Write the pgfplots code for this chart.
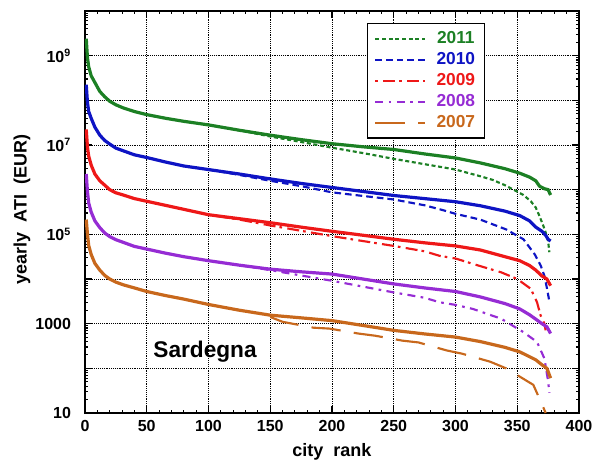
\documentclass[border=0pt]{standalone}
\usepackage{pgfplots}
\pgfplotsset{compat=1.18}
\usepackage{fontspec}
\setmainfont{Liberation Sans}

\definecolor{cA}{RGB}{28,128,36}   % 2011
\definecolor{cB}{RGB}{14,20,196}   % 2010
\definecolor{cC}{RGB}{238,24,24}   % 2009
\definecolor{cD}{RGB}{150,44,212}  % 2008
\definecolor{cE}{RGB}{200,104,28}  % 2007

\begin{document}
\begin{tikzpicture}
\useasboundingbox (-63.75pt,-41.25pt) rectangle (383.25pt,309.75pt);
\begin{axis}[
  scale only axis,
  width=370.5pt, height=301.5pt,
  xmin=0, xmax=400,
  ymode=log, log basis y=10,
  ymin=10, ymax=1e10,
  xtick={0,50,...,400},
  minor x tick num=4,
  ytick={10,100,1000,1e4,1e5,1e6,1e7,1e8,1e9,1e10},
  yticklabels={10,{},1000,{},10\textsuperscript{5},{},10\textsuperscript{7},{},10\textsuperscript{9},{}},
  minor ytick={2e1,3e1,4e1,5e1,6e1,7e1,8e1,9e1,
    2e2,3e2,4e2,5e2,6e2,7e2,8e2,9e2,
    2e3,3e3,4e3,5e3,6e3,7e3,8e3,9e3,
    2e4,3e4,4e4,5e4,6e4,7e4,8e4,9e4,
    2e5,3e5,4e5,5e5,6e5,7e5,8e5,9e5,
    2e6,3e6,4e6,5e6,6e6,7e6,8e6,9e6,
    2e7,3e7,4e7,5e7,6e7,7e7,8e7,9e7,
    2e8,3e8,4e8,5e8,6e8,7e8,8e8,9e8,
    2e9,3e9,4e9,5e9,6e9,7e9,8e9,9e9},
  xtick pos=both, ytick pos=both,
  tick align=inside,
  major tick length=5pt, minor tick length=2.5pt,
  every tick/.style={black, line width=0.8pt},
  axis line style={line width=1.1pt},
  grid=major,
  major grid style={black, densely dotted, line width=0.6pt},
  /pgf/number format/assume math mode=true,
  tick label style={font=\bfseries\fontsize{12}{14}\selectfont},
  yticklabel style={xshift=-7pt},
  xticklabel style={yshift=-2pt},
  xlabel={city\ \ rank},
  ylabel={yearly\ \ ATI\ \ (EUR)},
  every axis x label/.style={at={(axis description cs:0.5,-0.097)}, anchor=center,
    font=\bfseries\fontsize{13.5}{16}\selectfont},
  every axis y label/.style={at={(axis description cs:-0.1275,0.507)}, rotate=90, anchor=center,
    font=\bfseries\fontsize{13.5}{16}\selectfont},
  legend style={at={(rel axis cs:0.571,0.970)}, anchor=north west,
    draw=black, line width=1pt, fill=white,
    font=\bfseries\fontsize{13}{15}\selectfont,
    row sep=1.2pt, inner xsep=5pt, inner ysep=4pt,
    nodes={inner sep=2pt}},
  legend image code/.code={\draw[#1] (0pt,0pt) -- (37pt,0pt);},
]

% ---- ranked curves, second ordering (dashed, in legend) ----
\addplot[cA, line width=1.6pt, dash pattern=on 3pt off 2pt] coordinates {
 (100,2.82e7) (125,2.14e7) (150,1.55e7) (175,1.17e7) (200,8.71e6)
 (225,6.61e6) (250,4.90e6) (275,3.72e6) (290,3.16e6) (300,2.82e6)
 (320,2.00e6) (330,1.66e6) (340,1.26e6) (347,1.00e6) (355,7.59e5)
 (361,5.50e5) (365,3.98e5) (368,2.57e5) (371,1.58e5) (373,1.10e5)
 (375,7.08e4) (376,3.98e4)};
\addlegendentry{\hspace{6pt}\textcolor{cA}{2011}}

\addplot[cB, line width=1.6pt, dash pattern=on 5pt off 3pt] coordinates {
 (100,2.82e6) (125,2.14e6) (150,1.58e6) (175,1.20e6) (200,8.71e5)
 (225,7.24e5) (250,6.03e5) (275,4.47e5) (290,3.47e5) (300,2.88e5)
 (320,2.14e5) (341,1.29e5) (355,7.76e4) (364,3.63e4) (369,2.00e4)
 (372,1.17e4) (374,6.31e3) (376,3.16e3)};
\addlegendentry{\hspace{6pt}\textcolor{cB}{2010}}

\addplot[cC, line width=1.6pt, dash pattern=on 2pt off 4pt on 9pt off 3pt] coordinates {
 (100,2.75e5) (125,2.14e5) (150,1.58e5) (175,1.20e5) (200,9.12e4)
 (225,7.08e4) (250,5.50e4) (275,4.17e4) (287,3.31e4) (300,2.88e4)
 (315,2.14e4) (337,1.41e4) (350,1.00e4) (361,6.03e3) (366,3.02e3)
 (369,1.51e3) (372,1.00e3) (373,7.08e2)};
\addlegendentry{\hspace{6pt}\textcolor{cC}{2009}}

\addplot[cD, line width=1.6pt, dash pattern=on 6pt off 4pt on 2pt off 4pt] coordinates {
 (125,2.04e4) (150,1.58e4) (175,1.20e4) (200,9.12e3) (225,6.76e3)
 (250,5.01e3) (275,3.80e3) (287,3.02e3) (300,2.63e3) (314,2.14e3)
 (337,1.29e3) (355,6.46e2) (366,3.89e2) (372,1.66e2) (375,5.13e1)
 (376,2.82e1)};
\addlegendentry{\hspace{6pt}\textcolor{cD}{2008}}

\addplot[cE, line width=1.6pt, dash pattern=on 22pt off 10pt] coordinates {
 (150,1.41e3) (160,1.10e3) (185,8.13e2) (198,7.76e2) (221,6.03e2)
 (235,5.37e2) (257,4.17e2) (270,3.80e2) (293,2.51e2) (305,2.14e2)
 (328,1.41e2) (341,1.00e2) (363,4.27e1) (370,1.58e1) (373,1.00e1)};
\addlegendentry{\hspace{6pt}\textcolor{cE}{2007}}

% ---- ranked curves (thick solid) ----
\addplot[cA, line width=2.4pt, forget plot] coordinates {
 (1,2.40e9) (2,8.91e8) (3,5.62e8) (5,3.55e8) (8,2.51e8) (12,1.58e8)
 (16,1.20e8) (20,9.55e7) (25,7.94e7) (31,6.76e7) (40,5.62e7) (50,4.79e7)
 (65,3.98e7) (80,3.39e7) (100,2.82e7) (125,2.14e7) (150,1.66e7)
 (175,1.32e7) (200,1.07e7) (225,9.12e6) (250,7.94e6) (275,6.31e6)
 (300,5.13e6) (320,3.98e6) (340,2.95e6) (352,2.34e6) (360,1.91e6)
 (365,1.58e6) (368,1.20e6) (372,1.05e6) (375,1.00e6) (377,7.59e5)};

\addplot[cB, line width=2.4pt, forget plot] coordinates {
 (1,2.24e8) (2,8.91e7) (3,5.62e7) (5,3.98e7) (8,2.51e7) (12,1.66e7)
 (16,1.26e7) (20,1.05e7) (25,8.51e6) (31,7.41e6) (40,6.03e6) (50,5.25e6)
 (65,4.17e6) (80,3.39e6) (100,2.82e6) (125,2.24e6) (150,1.74e6)
 (175,1.38e6) (200,1.12e6) (225,9.12e5) (250,7.41e5) (275,6.31e5)
 (300,5.37e5) (320,4.37e5) (340,3.31e5) (352,2.63e5) (360,2.00e5)
 (365,1.45e5) (370,1.17e5) (373,9.55e4) (375,7.76e4) (377,7.08e4)};

\addplot[cC, line width=2.4pt, forget plot] coordinates {
 (1,2.24e7) (2,8.91e6) (3,5.62e6) (5,3.55e6) (8,2.24e6) (12,1.58e6)
 (16,1.26e6) (20,1.00e6) (25,8.51e5) (31,7.59e5) (40,6.31e5) (50,5.50e5)
 (65,4.47e5) (80,3.63e5) (100,2.75e5) (125,2.24e5) (150,1.82e5)
 (175,1.45e5) (200,1.17e5) (225,9.55e4) (250,7.76e4) (275,6.46e4)
 (300,5.50e4) (320,4.47e4) (340,3.16e4) (352,2.57e4) (360,2.00e4)
 (365,1.58e4) (370,1.17e4) (374,1.00e4) (377,7.08e3)};

\addplot[cD, line width=2.4pt, forget plot] coordinates {
 (1,2.24e6) (2,8.91e5) (3,5.01e5) (5,3.16e5) (8,2.00e5) (12,1.41e5)
 (16,1.07e5) (20,8.91e4) (25,7.59e4) (31,6.61e4) (40,5.37e4) (50,4.68e4)
 (65,3.80e4) (80,3.16e4) (100,2.57e4) (125,2.04e4) (150,1.66e4)
 (175,1.45e4) (200,1.29e4) (225,1.00e4) (250,7.76e3) (275,6.31e3)
 (300,5.25e3) (320,3.98e3) (340,2.82e3) (352,2.14e3) (360,1.58e3)
 (365,1.26e3) (370,1.00e3) (374,8.51e2) (377,6.03e2)};

\addplot[cE, line width=2.4pt, forget plot] coordinates {
 (1,2.14e5) (2,1.00e5) (3,5.62e4) (5,3.55e4) (8,2.24e4) (12,1.58e4)
 (16,1.20e4) (20,1.00e4) (25,8.51e3) (31,7.41e3) (40,6.31e3) (50,5.25e3)
 (65,4.27e3) (80,3.55e3) (100,2.69e3) (125,2.00e3) (150,1.55e3)
 (175,1.35e3) (200,1.17e3) (225,9.12e2) (250,7.08e2) (275,5.89e2)
 (300,5.01e2) (320,3.98e2) (340,2.95e2) (352,2.34e2) (360,1.82e2)
 (365,1.55e2) (370,1.20e2) (374,1.00e2) (377,6.03e1)};

\node[font=\bfseries\fontsize{17}{20}\selectfont] at (rel axis cs:0.243,0.152) {Sardegna};
\end{axis}
\end{tikzpicture}
\end{document}
